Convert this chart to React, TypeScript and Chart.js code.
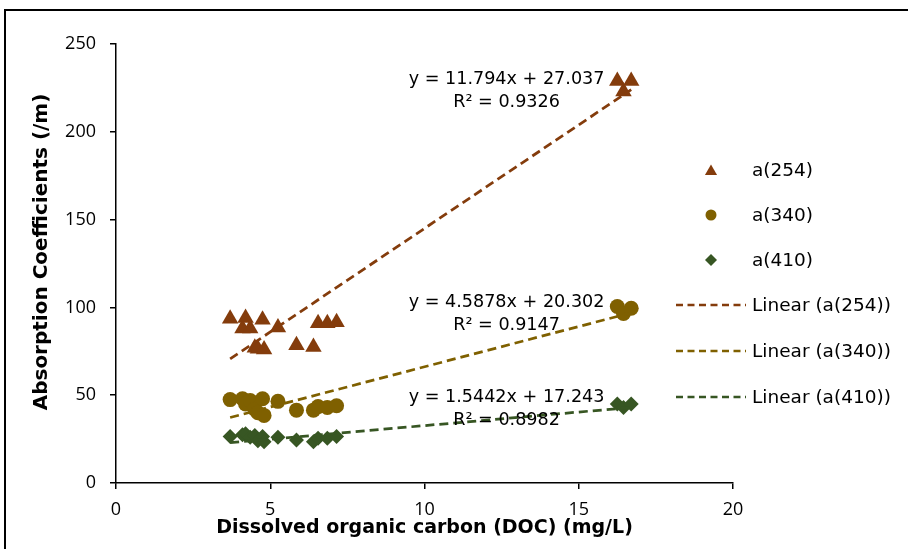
import React, { useEffect, useRef } from "react";
import { Chart, registerables } from "chart.js";

Chart.register(...registerables);

// ---- data ----
const docValues = [3.7, 4.1, 4.2, 4.35, 4.5, 4.6, 4.75, 4.8, 5.25, 5.85, 6.4, 6.55, 6.85, 7.15, 16.25, 16.45, 16.7];
const a254Values = [93.5, 88, 94, 88, 77, 76.5, 93, 76, 88.5, 78.5, 77.5, 91, 91, 91.5, 229, 223, 229];
const a340Values = [47.5, 48, 45, 47, 42, 40, 48, 38.5, 46.5, 41.5, 41.5, 43.5, 43, 44, 100.5, 96.5, 99.5];
const a410Values = [26.5, 27.5, 28, 26, 27, 24, 26.5, 23.5, 26, 24.5, 23.5, 25.5, 25.5, 26.5, 45, 43, 45];

const seriesNames = ["a(254)", "a(340)", "a(410)"];
const trendSlopes = [11.794, 4.5878, 1.5442];
const trendIntercepts = [27.037, 20.302, 17.243];
const trendR2 = ["0.9326", "0.9147", "0.8982"];

const xTickValues = [0, 5, 10, 15, 20];
const yTickValues = [0, 50, 100, 150, 200, 250];

const xTitle = "Dissolved organic carbon (DOC) (mg/L)";
const yTitle = "Absorption Coefficients (/m)";

// ---- styles / layout ----
const colors = ["#843C0C", "#7F6000", "#375623"];
const pointStyles = ["triangle", "circle", "rectRot"];
const pointRadii = [9.5, 7.5, 7.5];
const W = 908;
const H = 549;
const eqLabelX = 12.66; // data units
const eqLabelY = [230, 103, 49]; // data units
const eqLineGap = 23.5;
const legendMarkerX = 711;
const legendTextX = 752;
const legendRows = [170, 215, 260, 305, 351, 397];
const yTitleCenter = { x: 42, y: 252 };

const labelFont = '"DejaVu Sans", Verdana, sans-serif';

function drawMarker(ctx: CanvasRenderingContext2D, style: string, x: number, y: number, r: number) {
  ctx.beginPath();
  if (style === "triangle") {
    ctx.moveTo(x, y - r);
    ctx.lineTo(x + r * 0.866, y + r * 0.5);
    ctx.lineTo(x - r * 0.866, y + r * 0.5);
  } else if (style === "circle") {
    ctx.arc(x, y, r, 0, Math.PI * 2);
  } else {
    ctx.moveTo(x - r, y);
    ctx.lineTo(x, y - r);
    ctx.lineTo(x + r, y);
    ctx.lineTo(x, y + r);
  }
  ctx.closePath();
  ctx.fill();
}

const overlayPlugin = {
  id: "overlay",
  afterDatasetsDraw(chart: any) {
    const { ctx, scales } = chart;
    const xs = scales.x;
    const ys = scales.y;
    ctx.save();
    ctx.fillStyle = "#000";
    ctx.font = `17.6px ${labelFont}`;
    ctx.textAlign = "center";
    ctx.textBaseline = "middle";
    for (let i = 0; i < 3; i++) {
      const px = xs.getPixelForValue(eqLabelX);
      const py = ys.getPixelForValue(eqLabelY[i]);
      ctx.fillText(`y = ${trendSlopes[i]}x + ${trendIntercepts[i]}`, px, py);
      ctx.fillText(`R\u00B2 = ${trendR2[i]}`, px, py + eqLineGap);
    }
    // legend
    ctx.font = `18.5px ${labelFont}`;
    ctx.textAlign = "left";
    const legendRadii = [7, 5.5, 6];
    for (let i = 0; i < 3; i++) {
      ctx.fillStyle = colors[i];
      drawMarker(ctx, pointStyles[i], legendMarkerX, legendRows[i] + (i === 0 ? 1.5 : 0), legendRadii[i]);
      ctx.fillStyle = "#000";
      ctx.fillText(seriesNames[i], legendTextX, legendRows[i] + 1.5);
    }
    for (let i = 0; i < 3; i++) {
      const y = legendRows[3 + i];
      ctx.strokeStyle = colors[i];
      ctx.lineWidth = 2.5;
      ctx.setLineDash([7, 4.5]);
      ctx.beginPath();
      ctx.moveTo(676, y);
      ctx.lineTo(746, y);
      ctx.stroke();
      ctx.setLineDash([]);
      ctx.fillStyle = "#000";
      ctx.fillText(`Linear (${seriesNames[i]})`, legendTextX, y + 1.5);
    }
    // y axis title
    ctx.translate(yTitleCenter.x, yTitleCenter.y);
    ctx.rotate(-Math.PI / 2);
    ctx.textAlign = "center";
    ctx.font = `bold 20px ${labelFont}`;
    ctx.fillText(yTitle, 0, 0);
    ctx.restore();
  },
};

export default function App() {
  const ref = useRef<HTMLCanvasElement | null>(null);
  useEffect(() => {
    if (!ref.current) return;
    const seriesValues = [a254Values, a340Values, a410Values];
    const xMin = Math.min(...docValues);
    const xMax = Math.max(...docValues);
    const scatterSets = seriesValues.map((vals, i) => ({
      type: "scatter" as const,
      label: seriesNames[i],
      data: docValues.map((x, j) => ({ x, y: vals[j] })),
      backgroundColor: colors[i],
      borderColor: colors[i],
      borderWidth: 0,
      pointStyle: pointStyles[i],
      pointRadius: pointRadii[i],
      pointHoverRadius: pointRadii[i],
      order: 2,
    }));
    const trendSets = seriesNames.map((name, i) => ({
      type: "line" as const,
      label: `Linear (${name})`,
      data: [
        { x: xMin, y: trendSlopes[i] * xMin + trendIntercepts[i] },
        { x: xMax, y: trendSlopes[i] * xMax + trendIntercepts[i] },
      ],
      borderColor: colors[i],
      borderWidth: 2.75,
      borderDash: [9, 5],
      pointRadius: 0,
      fill: false,
      showLine: true,
      order: 1,
    }));
    const chart = new Chart(ref.current, {
      type: "scatter",
      data: { datasets: [...scatterSets, ...trendSets] as any },
      options: {
        responsive: false,
        animation: false,
        devicePixelRatio: 1,
        layout: { padding: { left: 0, right: W - 733, top: 44, bottom: 0 } },
        plugins: { legend: { display: false }, tooltip: { enabled: false } },
        scales: {
          x: {
            type: "linear",
            min: 0,
            max: 20,
            afterBuildTicks: (s: any) => {
              s.ticks = xTickValues.map((v) => ({ value: v }));
            },
            afterFit: (s: any) => {
              s.height = H - 483;
            },
            grid: { display: true, drawOnChartArea: false, drawTicks: true, tickLength: 6, color: "#000", lineWidth: 1.5 },
            border: { display: true, color: "#000", width: 1.5 },
            ticks: { color: "#000", padding: 10, font: { family: '"Open Sans", sans-serif', size: 18 } },
            title: {
              display: true,
              text: xTitle,
              color: "#000",
              padding: { top: 0, bottom: 10 },
              font: { family: labelFont, size: 19, weight: "bold" },
            },
          },
          y: {
            type: "linear",
            min: 0,
            max: 250,
            afterBuildTicks: (s: any) => {
              s.ticks = yTickValues.map((v) => ({ value: v }));
            },
            afterFit: (s: any) => {
              s.width = 116;
            },
            grid: { display: true, drawOnChartArea: false, drawTicks: true, tickLength: 6, color: "#000", lineWidth: 1.5 },
            border: { display: true, color: "#000", width: 1.5 },
            ticks: { color: "#000", padding: 14, font: { family: '"Open Sans", sans-serif', size: 18 } },
            title: { display: false },
          },
        },
      },
      plugins: [overlayPlugin],
    });
    return () => chart.destroy();
  }, []);
  return (
    <div style={{ position: "absolute", left: 0, top: 0, width: W, height: H, overflow: "hidden", background: "#fff" }}>
      <canvas ref={ref} width={W} height={H} style={{ position: "absolute", left: 0, top: 0 }} />
      <div
        style={{
          position: "absolute",
          left: 4,
          top: 9,
          width: W + 20,
          height: H + 20,
          borderLeft: "2px solid #000",
          borderTop: "2px solid #000",
          pointerEvents: "none",
        }}
      />
    </div>
  );
}
